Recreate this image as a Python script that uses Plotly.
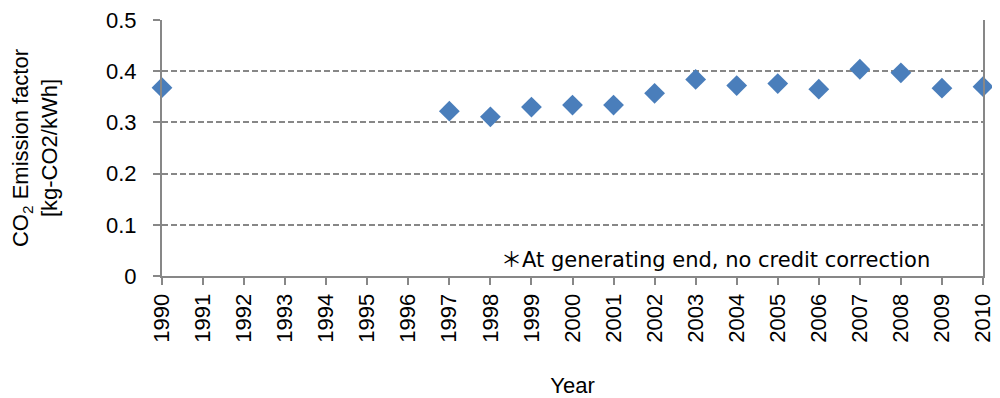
import plotly.graph_objects as go

years = list(range(1990, 2011))
year_labels = [str(y) for y in years]
data_years = [1990, 1997, 1998, 1999, 2000, 2001, 2002, 2003, 2004, 2005, 2006, 2007, 2008, 2009, 2010]
emission_factor = [0.368, 0.322, 0.311, 0.330, 0.334, 0.334, 0.357, 0.384, 0.372, 0.376, 0.365, 0.404, 0.397, 0.367, 0.370]
y_ticks = [0, 0.1, 0.2, 0.3, 0.4, 0.5]
y_tick_labels = ["0", "0.1", "0.2", "0.3", "0.4", "0.5"]

axis_gray = "#878787"

fig = go.Figure()
fig.add_trace(go.Scatter(
    x=data_years, y=emission_factor, mode="markers",
    marker=dict(symbol="diamond", size=16, color="#4A7EBB",
                line=dict(width=0)),
    cliponaxis=False, showlegend=False,
))

# the page body has an 8px default margin, so the figure is sized to fit the window
fig.update_layout(
    width=992, height=390,
    margin=dict(l=154, r=17, t=12, b=122),
    paper_bgcolor="white", plot_bgcolor="white",
    font=dict(family="Liberation Sans, Arial, sans-serif", color="black"),
    xaxis=dict(
        range=[1990, 2010], tickmode="array", tickvals=years, ticktext=year_labels,
        tickangle=-90, tickfont=dict(family="Liberation Sans", size=22), ticks="outside", ticklen=7,
        tickcolor=axis_gray, tickwidth=2, showline=True, linecolor=axis_gray,
        linewidth=2, showgrid=False, zeroline=False, automargin=False,
        title=dict(text="Year", font=dict(size=22), standoff=52),
    ),
    yaxis=dict(
        range=[0, 0.5002], tickmode="array", tickvals=y_ticks, ticktext=y_tick_labels,
        tickfont=dict(size=22), ticks="outside", ticklen=7, tickcolor=axis_gray,
        tickwidth=2, showline=True, linecolor=axis_gray, linewidth=2, mirror=True,
        showgrid=True, gridcolor=axis_gray, griddash="6px,3px", gridwidth=1.5,
        zeroline=False, automargin=False, ticklabelstandoff=12,
        ticklabeloverflow="allow",
        title=dict(text="CO<sub>2</sub> Emission factor<br>[kg-CO2/kWh]",
                   font=dict(size=22), standoff=51),
    ),
    annotations=[dict(
        x=0.938, y=0.07, xref="paper", yref="paper", xanchor="right", yanchor="middle",
        text="<span style=\"font-family:'Noto Sans CJK JP'\">＊</span>At generating end, no credit correction",
        showarrow=False,
        font=dict(family="DejaVu Sans", size=21, color="black"),
    )],
)

fig.write_html("out.html")
